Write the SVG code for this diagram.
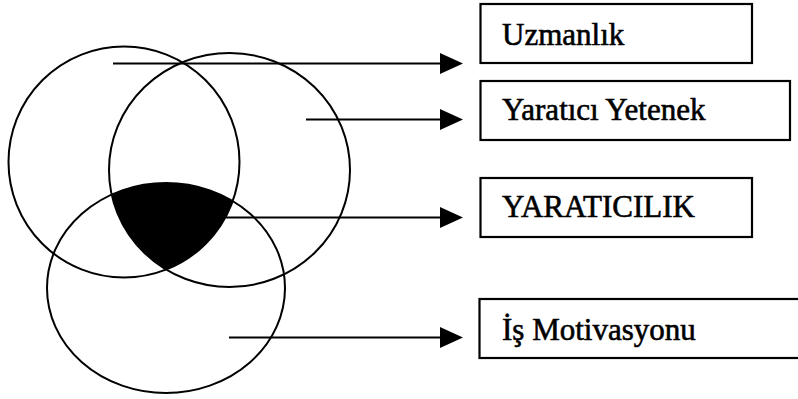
<svg xmlns="http://www.w3.org/2000/svg" width="798" height="399" viewBox="0 0 798 399">
  <style>
    .ring { fill: none; stroke: #000; stroke-width: 2; }
    .box { fill: #fff; stroke: #000; stroke-width: 2.2; }
    .lbl { font-family: "Liberation Serif", "DejaVu Serif", serif; font-size: 31px; fill: #000; stroke: #000; stroke-width: 0.6; }
    .conn { stroke: #000; stroke-width: 2.2; fill: none; }
    .head { fill: #000; stroke: none; }
  </style>
  <defs>
    <clipPath id="clipC1"><circle cx="124" cy="162" r="115.5"/></clipPath>
    <clipPath id="clipC2"><ellipse cx="229.5" cy="170" rx="120.5" ry="117"/></clipPath>
  </defs>
  <rect width="798" height="399" fill="#fff"/>

  <g id="venn">
    <g clip-path="url(#clipC1)">
      <ellipse cx="166" cy="288" rx="119" ry="105" fill="#000" clip-path="url(#clipC2)"/>
    </g>
    <circle class="ring" cx="124" cy="162" r="115.5"/>
    <ellipse class="ring" cx="229.5" cy="170" rx="120.5" ry="117"/>
    <ellipse class="ring" cx="166" cy="288" rx="119" ry="105"/>
  </g>

  <g id="connectors">
    <line class="conn" x1="113" y1="63.5" x2="442" y2="63.5"/>
    <polygon class="head" points="440,53 463,63.5 440,74"/>
    <line class="conn" x1="306" y1="119.5" x2="442" y2="119.5"/>
    <polygon class="head" points="440,109 463,119.5 440,130"/>
    <line class="conn" x1="226" y1="217.5" x2="442" y2="217.5"/>
    <polygon class="head" points="440,207 463,217.5 440,228"/>
    <line class="conn" x1="229" y1="337.5" x2="442" y2="337.5"/>
    <polygon class="head" points="440,327 463,337.5 440,348"/>
  </g>

  <g id="node-uzmanlik">
    <rect class="box" x="480.5" y="4" width="271.5" height="59"/>
    <text class="lbl" x="502" y="45">Uzmanlık</text>
  </g>
  <g id="node-yaratici-yetenek">
    <rect class="box" x="480.5" y="81" width="309.5" height="59"/>
    <text class="lbl" x="502" y="120">Yaratıcı Yetenek</text>
  </g>
  <g id="node-yaraticilik">
    <rect class="box" x="480.5" y="178" width="271.5" height="59"/>
    <text class="lbl" x="502" y="217">YARATICILIK</text>
  </g>
  <g id="node-is-motivasyonu">
    <rect class="box" x="479.5" y="299" width="330" height="59"/>
    <text class="lbl" x="502" y="340">İş Motivasyonu</text>
  </g>
</svg>
